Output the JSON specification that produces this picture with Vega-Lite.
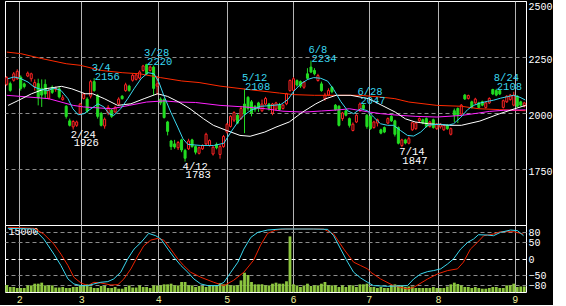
{
"$schema":"https://vega.github.io/schema/vega-lite/v6.json",
"background":"#000000",
"padding":{"left":4,"top":0,"right":0,"bottom":0},
"spacing":0,
"bounds":"flush",
"config":{"view":{"stroke":"#ffffff","strokeWidth":1},"axis":{"labelFont":"Liberation Mono","labelFontSize":10,"labelColor":"#ffffff","ticks":false,"domain":false,"title":null,"gridWidth":1}},
"resolve":{"scale":{"x":"independent","color":"independent"},"axis":{"x":"independent"}},
"datasets":{
"candles":[
{"i":0,"o":2128,"h":2165,"l":2122,"c":2158,"v":1570},
{"i":1,"o":2131,"h":2140,"l":2095,"c":2101,"v":1120},
{"i":2,"o":2146,"h":2183,"l":2140,"c":2175,"v":1120},
{"i":3,"o":2153,"h":2195,"l":2148,"c":2186,"v":900},
{"i":4,"o":2160,"h":2168,"l":2100,"c":2110,"v":900},
{"i":5,"o":2130,"h":2136,"l":2110,"c":2118,"v":900},
{"i":6,"o":2165,"h":2185,"l":2160,"c":2178,"v":1480},
{"i":7,"o":2153,"h":2180,"l":2140,"c":2175,"v":1480},
{"i":8,"o":2118,"h":2150,"l":2100,"c":2136,"v":1860},
{"i":9,"o":2131,"h":2153,"l":2034,"c":2068,"v":1860},
{"i":10,"o":2110,"h":2150,"l":2027,"c":2080,"v":2090},
{"i":11,"o":2128,"h":2150,"l":2064,"c":2085,"v":1480},
{"i":12,"o":2066,"h":2110,"l":2060,"c":2100,"v":1480},
{"i":13,"o":2115,"h":2123,"l":2085,"c":2092,"v":1480},
{"i":14,"o":2105,"h":2118,"l":2095,"c":2112,"v":1000},
{"i":15,"o":2108,"h":2120,"l":2065,"c":2072,"v":1000},
{"i":16,"o":2060,"h":2080,"l":2055,"c":2068,"v":1120},
{"i":17,"o":2030,"h":2035,"l":1975,"c":1985,"v":900},
{"i":18,"o":1965,"h":1975,"l":1940,"c":1945,"v":900},
{"i":19,"o":1938,"h":1968,"l":1926,"c":1962,"v":1120},
{"i":20,"o":1945,"h":1966,"l":1938,"c":1960,"v":1120},
{"i":21,"o":1998,"h":2045,"l":1990,"c":2040,"v":1480},
{"i":22,"o":2065,"h":2090,"l":2060,"c":2085,"v":1480},
{"i":23,"o":2062,"h":2070,"l":2000,"c":2008,"v":1710},
{"i":24,"o":2075,"h":2148,"l":2065,"c":2140,"v":1200},
{"i":25,"o":2140,"h":2156,"l":2095,"c":2100,"v":900},
{"i":26,"o":2078,"h":2085,"l":1975,"c":1985,"v":900},
{"i":27,"o":1998,"h":2005,"l":1940,"c":1945,"v":1340},
{"i":28,"o":1942,"h":1980,"l":1930,"c":1972,"v":1340},
{"i":29,"o":2000,"h":2035,"l":1990,"c":2025,"v":900},
{"i":30,"o":2012,"h":2020,"l":1978,"c":1985,"v":900},
{"i":31,"o":2005,"h":2032,"l":2000,"c":2025,"v":1120},
{"i":32,"o":2040,"h":2070,"l":2035,"c":2062,"v":740},
{"i":33,"o":2075,"h":2080,"l":2060,"c":2064,"v":740},
{"i":34,"o":2100,"h":2135,"l":2095,"c":2126,"v":1120},
{"i":35,"o":2120,"h":2126,"l":2095,"c":2101,"v":1480},
{"i":36,"o":2146,"h":2175,"l":2140,"c":2168,"v":1000},
{"i":37,"o":2150,"h":2178,"l":2145,"c":2170,"v":1000},
{"i":38,"o":2156,"h":2190,"l":2150,"c":2183,"v":1480},
{"i":39,"o":2190,"h":2215,"l":2185,"c":2210,"v":1120},
{"i":40,"o":2216,"h":2220,"l":2170,"c":2175,"v":1120},
{"i":41,"o":2190,"h":2212,"l":2185,"c":2205,"v":900},
{"i":42,"o":2205,"h":2212,"l":2080,"c":2110,"v":1480},
{"i":43,"o":2120,"h":2165,"l":2080,"c":2130,"v":1480},
{"i":44,"o":2062,"h":2070,"l":2035,"c":2045,"v":1480},
{"i":45,"o":2060,"h":2066,"l":1975,"c":1980,"v":1710},
{"i":46,"o":1960,"h":1965,"l":1900,"c":1918,"v":1710},
{"i":47,"o":1875,"h":1880,"l":1835,"c":1850,"v":1860},
{"i":48,"o":1862,"h":1880,"l":1840,"c":1848,"v":1480},
{"i":49,"o":1845,"h":1875,"l":1835,"c":1868,"v":1480},
{"i":50,"o":1880,"h":1885,"l":1825,"c":1835,"v":2240},
{"i":51,"o":1833,"h":1840,"l":1783,"c":1798,"v":2240},
{"i":52,"o":1840,"h":1885,"l":1835,"c":1875,"v":1480},
{"i":53,"o":1880,"h":1885,"l":1845,"c":1850,"v":1480},
{"i":54,"o":1850,"h":1855,"l":1815,"c":1825,"v":1120},
{"i":55,"o":1820,"h":1850,"l":1815,"c":1845,"v":1340},
{"i":56,"o":1840,"h":1860,"l":1835,"c":1855,"v":1340},
{"i":57,"o":1862,"h":1912,"l":1855,"c":1905,"v":1120},
{"i":58,"o":1855,"h":1882,"l":1850,"c":1877,"v":1340},
{"i":59,"o":1817,"h":1852,"l":1810,"c":1847,"v":1480},
{"i":60,"o":1860,"h":1868,"l":1838,"c":1845,"v":1480},
{"i":61,"o":1815,"h":1858,"l":1796,"c":1850,"v":1970},
{"i":62,"o":1850,"h":1902,"l":1845,"c":1895,"v":1710},
{"i":63,"o":1915,"h":1955,"l":1908,"c":1950,"v":1710},
{"i":64,"o":1940,"h":1990,"l":1935,"c":1985,"v":1480},
{"i":65,"o":1968,"h":2008,"l":1960,"c":2002,"v":1480},
{"i":66,"o":1990,"h":1995,"l":1950,"c":1955,"v":1480},
{"i":67,"o":1975,"h":2030,"l":1970,"c":2020,"v":2600},
{"i":68,"o":2040,"h":2108,"l":1910,"c":1995,"v":4320},
{"i":69,"o":2070,"h":2075,"l":2010,"c":2020,"v":3800},
{"i":70,"o":2050,"h":2058,"l":1985,"c":2000,"v":2240},
{"i":71,"o":2030,"h":2035,"l":2005,"c":2015,"v":1710},
{"i":72,"o":2045,"h":2050,"l":2005,"c":2020,"v":1710},
{"i":73,"o":2010,"h":2060,"l":2005,"c":2040,"v":1710},
{"i":74,"o":2040,"h":2072,"l":2035,"c":2065,"v":1480},
{"i":75,"o":2040,"h":2045,"l":2010,"c":2020,"v":1480},
{"i":76,"o":2000,"h":2045,"l":1990,"c":2040,"v":1860},
{"i":77,"o":2018,"h":2050,"l":2010,"c":2045,"v":2090},
{"i":78,"o":2035,"h":2045,"l":2010,"c":2015,"v":1860},
{"i":79,"o":2020,"h":2040,"l":2015,"c":2035,"v":1860},
{"i":80,"o":2041,"h":2090,"l":2035,"c":2086,"v":2400},
{"i":81,"o":2100,"h":2150,"l":2095,"c":2145,"v":12450},
{"i":82,"o":2101,"h":2160,"l":2095,"c":2153,"v":1710},
{"i":83,"o":2145,"h":2150,"l":2118,"c":2125,"v":1480},
{"i":84,"o":2140,"h":2145,"l":2112,"c":2120,"v":1120},
{"i":85,"o":2115,"h":2142,"l":2108,"c":2138,"v":1480},
{"i":86,"o":2175,"h":2200,"l":2150,"c":2155,"v":1860},
{"i":87,"o":2205,"h":2234,"l":2178,"c":2183,"v":1340},
{"i":88,"o":2190,"h":2200,"l":2168,"c":2175,"v":1480},
{"i":89,"o":2145,"h":2175,"l":2140,"c":2167,"v":1480},
{"i":90,"o":2130,"h":2140,"l":2095,"c":2100,"v":1860},
{"i":91,"o":2065,"h":2090,"l":2055,"c":2080,"v":2240},
{"i":92,"o":2080,"h":2110,"l":2075,"c":2100,"v":1480},
{"i":93,"o":2115,"h":2120,"l":2088,"c":2095,"v":1480},
{"i":94,"o":2035,"h":2040,"l":2010,"c":2015,"v":1480},
{"i":95,"o":2030,"h":2035,"l":1940,"c":1945,"v":1120},
{"i":96,"o":1975,"h":2005,"l":1965,"c":2000,"v":1480},
{"i":97,"o":2010,"h":2015,"l":1985,"c":1990,"v":1120},
{"i":98,"o":1975,"h":1980,"l":1935,"c":1945,"v":1480},
{"i":99,"o":1922,"h":1958,"l":1918,"c":1950,"v":1480},
{"i":100,"o":1960,"h":1995,"l":1955,"c":1990,"v":1120},
{"i":101,"o":2010,"h":2047,"l":2005,"c":2040,"v":1710},
{"i":102,"o":2035,"h":2040,"l":2015,"c":2020,"v":1710},
{"i":103,"o":1990,"h":1995,"l":1930,"c":1940,"v":1860},
{"i":104,"o":1985,"h":1990,"l":1925,"c":1930,"v":1120},
{"i":105,"o":1935,"h":1965,"l":1930,"c":1960,"v":1120},
{"i":106,"o":1955,"h":1975,"l":1940,"c":1970,"v":900},
{"i":107,"o":1925,"h":1930,"l":1905,"c":1910,"v":1120},
{"i":108,"o":1935,"h":1940,"l":1910,"c":1915,"v":900},
{"i":109,"o":1955,"h":1980,"l":1950,"c":1975,"v":900},
{"i":110,"o":1985,"h":1990,"l":1960,"c":1965,"v":1480},
{"i":111,"o":1965,"h":1970,"l":1895,"c":1905,"v":1710},
{"i":112,"o":1935,"h":1940,"l":1860,"c":1865,"v":1480},
{"i":113,"o":1855,"h":1885,"l":1847,"c":1880,"v":1480},
{"i":114,"o":1880,"h":1885,"l":1860,"c":1866,"v":1120},
{"i":115,"o":1865,"h":1895,"l":1860,"c":1885,"v":1230},
{"i":116,"o":1925,"h":1960,"l":1920,"c":1957,"v":1230},
{"i":117,"o":1930,"h":1960,"l":1925,"c":1955,"v":900},
{"i":118,"o":1965,"h":1980,"l":1960,"c":1975,"v":900},
{"i":119,"o":1970,"h":1975,"l":1950,"c":1955,"v":900},
{"i":120,"o":1975,"h":1980,"l":1935,"c":1940,"v":900},
{"i":121,"o":1940,"h":1965,"l":1935,"c":1960,"v":900},
{"i":122,"o":1970,"h":1975,"l":1930,"c":1935,"v":1120},
{"i":123,"o":1930,"h":1955,"l":1925,"c":1950,"v":900},
{"i":124,"o":1938,"h":1955,"l":1930,"c":1950,"v":900},
{"i":125,"o":1925,"h":1950,"l":1920,"c":1945,"v":900},
{"i":126,"o":1945,"h":1950,"l":1925,"c":1930,"v":1230},
{"i":127,"o":1905,"h":1935,"l":1900,"c":1930,"v":1710},
{"i":128,"o":2010,"h":2020,"l":1960,"c":1990,"v":2090},
{"i":129,"o":2020,"h":2025,"l":1955,"c":1990,"v":1790},
{"i":130,"o":1995,"h":2040,"l":1990,"c":2035,"v":1480},
{"i":131,"o":2080,"h":2085,"l":2058,"c":2063,"v":1120},
{"i":132,"o":2065,"h":2082,"l":2060,"c":2078,"v":1120},
{"i":133,"o":2050,"h":2055,"l":2020,"c":2025,"v":900},
{"i":134,"o":2045,"h":2068,"l":2040,"c":2062,"v":1120},
{"i":135,"o":2045,"h":2050,"l":2020,"c":2025,"v":900},
{"i":136,"o":2050,"h":2055,"l":2030,"c":2035,"v":740},
{"i":137,"o":2025,"h":2050,"l":2020,"c":2045,"v":740},
{"i":138,"o":2045,"h":2070,"l":2040,"c":2065,"v":900},
{"i":139,"o":2105,"h":2108,"l":2080,"c":2085,"v":1120},
{"i":140,"o":2100,"h":2108,"l":2075,"c":2080,"v":1120},
{"i":141,"o":2100,"h":2105,"l":2080,"c":2085,"v":900},
{"i":142,"o":2025,"h":2060,"l":2020,"c":2055,"v":900},
{"i":143,"o":2050,"h":2080,"l":2045,"c":2075,"v":1480},
{"i":144,"o":2060,"h":2085,"l":2055,"c":2080,"v":1480},
{"i":145,"o":2035,"h":2095,"l":2030,"c":2080,"v":1860},
{"i":146,"o":2075,"h":2080,"l":2025,"c":2030,"v":1120},
{"i":147,"o":2050,"h":2055,"l":2030,"c":2035,"v":1230},
{"i":148,"o":2030,"h":2050,"l":2025,"c":2045,"v":1230}
],
"ma":[
{"i":0,"p":2272,"s":"r"},{"i":4,"p":2265,"s":"r"},{"i":10,"p":2243,"s":"r"},{"i":17,"p":2220,"s":"r"},{"i":21,"p":2213,"s":"r"},{"i":27,"p":2190,"s":"r"},{"i":33,"p":2180,"s":"r"},{"i":38,"p":2175,"s":"r"},{"i":44,"p":2158,"s":"r"},{"i":50,"p":2143,"s":"r"},{"i":55,"p":2136,"s":"r"},{"i":61,"p":2120,"s":"r"},{"i":69,"p":2105,"s":"r"},{"i":78,"p":2089,"s":"r"},{"i":82,"p":2082,"s":"r"},{"i":88,"p":2079,"s":"r"},{"i":101,"p":2079,"s":"r"},{"i":107,"p":2071,"s":"r"},{"i":111,"p":2064,"s":"r"},{"i":115,"p":2049,"s":"r"},{"i":123,"p":2034,"s":"r"},{"i":130,"p":2030,"s":"r"},{"i":135,"p":2019,"s":"r"},{"i":141,"p":2015,"s":"r"},{"i":148.4,"p":2010,"s":"r"},
{"i":0,"p":2079,"s":"m"},{"i":12,"p":2064,"s":"m"},{"i":19,"p":2034,"s":"m"},{"i":22,"p":2027,"s":"m"},{"i":30,"p":2019,"s":"m"},{"i":35,"p":2034,"s":"m"},{"i":40,"p":2049,"s":"m"},{"i":45,"p":2054,"s":"m"},{"i":49,"p":2049,"s":"m"},{"i":54,"p":2047,"s":"m"},{"i":61,"p":2034,"s":"m"},{"i":68,"p":2027,"s":"m"},{"i":74,"p":2019,"s":"m"},{"i":79,"p":2008,"s":"m"},{"i":85,"p":2004,"s":"m"},{"i":90,"p":2009,"s":"m"},{"i":95,"p":2014,"s":"m"},{"i":98,"p":2019,"s":"m"},{"i":103,"p":2006,"s":"m"},{"i":107,"p":1997,"s":"m"},{"i":112,"p":1990,"s":"m"},{"i":117,"p":1985,"s":"m"},{"i":123,"p":1982,"s":"m"},{"i":130,"p":1989,"s":"m"},{"i":135,"p":2000,"s":"m"},{"i":138,"p":2007,"s":"m"},{"i":142,"p":2012,"s":"m"},{"i":148.4,"p":2014,"s":"m"},
{"i":0.4,"p":2034,"s":"w"},{"i":3.3,"p":2056,"s":"w"},{"i":7.1,"p":2086,"s":"w"},{"i":10.9,"p":2108,"s":"w"},{"i":15.7,"p":2119,"s":"w"},{"i":18.6,"p":2108,"s":"w"},{"i":22.4,"p":2086,"s":"w"},{"i":24.6,"p":2086,"s":"w"},{"i":27.9,"p":2064,"s":"w"},{"i":31.7,"p":2034,"s":"w"},{"i":35.5,"p":2041,"s":"w"},{"i":39.3,"p":2064,"s":"w"},{"i":43.1,"p":2086,"s":"w"},{"i":46,"p":2074,"s":"w"},{"i":49.2,"p":2049,"s":"w"},{"i":52.4,"p":2019,"s":"w"},{"i":56.3,"p":1974,"s":"w"},{"i":59.1,"p":1945,"s":"w"},{"i":62.9,"p":1922,"s":"w"},{"i":66.7,"p":1900,"s":"w"},{"i":69.6,"p":1896,"s":"w"},{"i":73.8,"p":1915,"s":"w"},{"i":77,"p":1937,"s":"w"},{"i":80.8,"p":1960,"s":"w"},{"i":84.6,"p":2004,"s":"w"},{"i":88.4,"p":2041,"s":"w"},{"i":91.3,"p":2064,"s":"w"},{"i":94.2,"p":2079,"s":"w"},{"i":98.4,"p":2079,"s":"w"},{"i":103.5,"p":2064,"s":"w"},{"i":107.3,"p":2034,"s":"w"},{"i":111.1,"p":2004,"s":"w"},{"i":114,"p":1974,"s":"w"},{"i":116.8,"p":1960,"s":"w"},{"i":120.6,"p":1952,"s":"w"},{"i":126.7,"p":1945,"s":"w"},{"i":130,"p":1945,"s":"w"},{"i":135.3,"p":1964,"s":"w"},{"i":141,"p":1997,"s":"w"},{"i":145.3,"p":2019,"s":"w"},{"i":148.4,"p":2034,"s":"w"},
{"i":0.3,"p":2153,"s":"c"},{"i":2.1,"p":2161,"s":"c"},{"i":4.1,"p":2153,"s":"c"},{"i":6.1,"p":2138,"s":"c"},{"i":7.8,"p":2116,"s":"c"},{"i":9.8,"p":2105,"s":"c"},{"i":11.8,"p":2101,"s":"c"},{"i":13.5,"p":2111,"s":"c"},{"i":15.5,"p":2101,"s":"c"},{"i":17.5,"p":2064,"s":"c"},{"i":18.9,"p":2019,"s":"c"},{"i":20.4,"p":1992,"s":"c"},{"i":22.1,"p":1997,"s":"c"},{"i":24.1,"p":2019,"s":"c"},{"i":26.1,"p":2041,"s":"c"},{"i":27.8,"p":2027,"s":"c"},{"i":29.2,"p":1997,"s":"c"},{"i":30.6,"p":1989,"s":"c"},{"i":32.6,"p":2019,"s":"c"},{"i":34.6,"p":2064,"s":"c"},{"i":36.4,"p":2108,"s":"c"},{"i":38.4,"p":2153,"s":"c"},{"i":40.4,"p":2180,"s":"c"},{"i":42.1,"p":2175,"s":"c"},{"i":43.5,"p":2138,"s":"c"},{"i":44.9,"p":2079,"s":"c"},{"i":46.9,"p":2004,"s":"c"},{"i":48.9,"p":1937,"s":"c"},{"i":50.4,"p":1885,"s":"c"},{"i":51.8,"p":1860,"s":"c"},{"i":55.5,"p":1855,"s":"c"},{"i":59.2,"p":1855,"s":"c"},{"i":62.1,"p":1865,"s":"c"},{"i":64.1,"p":1915,"s":"c"},{"i":66.1,"p":1960,"s":"c"},{"i":67.8,"p":1989,"s":"c"},{"i":69.8,"p":2012,"s":"c"},{"i":72.6,"p":2030,"s":"c"},{"i":75.5,"p":2033,"s":"c"},{"i":78.4,"p":2038,"s":"c"},{"i":80.4,"p":2060,"s":"c"},{"i":82.1,"p":2097,"s":"c"},{"i":84.1,"p":2130,"s":"c"},{"i":86.1,"p":2150,"s":"c"},{"i":87.8,"p":2158,"s":"c"},{"i":89.8,"p":2155,"s":"c"},{"i":91.8,"p":2142,"s":"c"},{"i":93.5,"p":2105,"s":"c"},{"i":95.5,"p":2052,"s":"c"},{"i":97.5,"p":2010,"s":"c"},{"i":99.2,"p":1997,"s":"c"},{"i":101.2,"p":2019,"s":"c"},{"i":103.2,"p":2010,"s":"c"},{"i":104.9,"p":1982,"s":"c"},{"i":106.9,"p":1952,"s":"c"},{"i":108.9,"p":1945,"s":"c"},{"i":110.6,"p":1945,"s":"c"},{"i":112.6,"p":1922,"s":"c"},{"i":114.6,"p":1900,"s":"c"},{"i":116.4,"p":1897,"s":"c"},{"i":118.4,"p":1915,"s":"c"},{"i":120.4,"p":1945,"s":"c"},{"i":122.1,"p":1948,"s":"c"},{"i":124.1,"p":1950,"s":"c"},{"i":126.1,"p":1945,"s":"c"},{"i":127.8,"p":1952,"s":"c"},{"i":129.8,"p":1980,"s":"c"},{"i":131.8,"p":2015,"s":"c"},{"i":133.5,"p":2034,"s":"c"},{"i":135.5,"p":2045,"s":"c"},{"i":137.5,"p":2052,"s":"c"},{"i":139.2,"p":2057,"s":"c"},{"i":141.2,"p":2066,"s":"c"},{"i":143.2,"p":2073,"s":"c"},{"i":144.9,"p":2079,"s":"c"},{"i":146.8,"p":2070,"s":"c"},{"i":148.3,"p":2058,"s":"c"}
],
"osc":[
{"i":0.4,"v":93,"s":"r"},{"i":7.8,"v":90,"s":"r"},{"i":10.6,"v":73,"s":"r"},{"i":13.5,"v":43,"s":"r"},{"i":15.5,"v":13,"s":"r"},{"i":17.5,"v":-21,"s":"r"},{"i":19.2,"v":-56,"s":"r"},{"i":21.2,"v":-73,"s":"r"},{"i":23.2,"v":-81,"s":"r"},{"i":24.9,"v":-71,"s":"r"},{"i":26.9,"v":-73,"s":"r"},{"i":29.8,"v":-79,"s":"r"},{"i":31.8,"v":-78,"s":"r"},{"i":33.5,"v":-61,"s":"r"},{"i":35.5,"v":-31,"s":"r"},{"i":37.5,"v":8,"s":"r"},{"i":39.2,"v":38,"s":"r"},{"i":41.2,"v":55,"s":"r"},{"i":43.2,"v":60,"s":"r"},{"i":44.9,"v":55,"s":"r"},{"i":46.9,"v":28,"s":"r"},{"i":48.9,"v":-1,"s":"r"},{"i":50.6,"v":-21,"s":"r"},{"i":52.6,"v":-41,"s":"r"},{"i":55.5,"v":-56,"s":"r"},{"i":59.2,"v":-71,"s":"r"},{"i":62.1,"v":-81,"s":"r"},{"i":64.9,"v":-65,"s":"r"},{"i":67.8,"v":-41,"s":"r"},{"i":70.6,"v":-5,"s":"r"},{"i":72.6,"v":40,"s":"r"},{"i":74.6,"v":75,"s":"r"},{"i":76.9,"v":85,"s":"r"},{"i":79.8,"v":88,"s":"r"},{"i":90.6,"v":88,"s":"r"},{"i":93.5,"v":73,"s":"r"},{"i":96.4,"v":28,"s":"r"},{"i":99.2,"v":-11,"s":"r"},{"i":101.2,"v":-21,"s":"r"},{"i":103.2,"v":-31,"s":"r"},{"i":104.1,"v":-41,"s":"r"},{"i":106.9,"v":-61,"s":"r"},{"i":110.6,"v":-81,"s":"r"},{"i":114.6,"v":-91,"s":"r"},{"i":116.4,"v":-86,"s":"r"},{"i":120.4,"v":-61,"s":"r"},{"i":123.2,"v":-46,"s":"r"},{"i":126.1,"v":-36,"s":"r"},{"i":128.9,"v":-31,"s":"r"},{"i":130.6,"v":-11,"s":"r"},{"i":132.6,"v":28,"s":"r"},{"i":134.6,"v":48,"s":"r"},{"i":136.4,"v":68,"s":"r"},{"i":139.2,"v":73,"s":"r"},{"i":141.2,"v":80,"s":"r"},{"i":144.9,"v":80,"s":"r"},{"i":147.8,"v":73,"s":"r"},
{"i":0.3,"v":90,"s":"c"},{"i":7.8,"v":88,"s":"c"},{"i":10.6,"v":58,"s":"c"},{"i":13.5,"v":13,"s":"c"},{"i":15.5,"v":-21,"s":"c"},{"i":17.5,"v":-61,"s":"c"},{"i":19.2,"v":-76,"s":"c"},{"i":21.2,"v":-81,"s":"c"},{"i":23.2,"v":-81,"s":"c"},{"i":24.9,"v":-76,"s":"c"},{"i":26.9,"v":-71,"s":"c"},{"i":28.9,"v":-69,"s":"c"},{"i":30.6,"v":-61,"s":"c"},{"i":32.6,"v":-41,"s":"c"},{"i":34.6,"v":-1,"s":"c"},{"i":36.4,"v":28,"s":"c"},{"i":38.4,"v":48,"s":"c"},{"i":40.6,"v":75,"s":"c"},{"i":42.6,"v":68,"s":"c"},{"i":44.1,"v":58,"s":"c"},{"i":46.1,"v":28,"s":"c"},{"i":47.8,"v":4,"s":"c"},{"i":49.8,"v":-21,"s":"c"},{"i":51.8,"v":-41,"s":"c"},{"i":53.5,"v":-61,"s":"c"},{"i":55.5,"v":-76,"s":"c"},{"i":57.5,"v":-81,"s":"c"},{"i":60.4,"v":-81,"s":"c"},{"i":62.1,"v":-71,"s":"c"},{"i":64.1,"v":-41,"s":"c"},{"i":66.1,"v":-11,"s":"c"},{"i":67.8,"v":28,"s":"c"},{"i":69.8,"v":63,"s":"c"},{"i":71.8,"v":78,"s":"c"},{"i":74.6,"v":85,"s":"c"},{"i":78.4,"v":88,"s":"c"},{"i":87.8,"v":88,"s":"c"},{"i":91.8,"v":87,"s":"c"},{"i":93.5,"v":68,"s":"c"},{"i":95.5,"v":28,"s":"c"},{"i":97.5,"v":-11,"s":"c"},{"i":99.2,"v":-41,"s":"c"},{"i":101.2,"v":-58,"s":"c"},{"i":103.2,"v":-71,"s":"c"},{"i":104.9,"v":-81,"s":"c"},{"i":108.9,"v":-83,"s":"c"},{"i":114.6,"v":-81,"s":"c"},{"i":116.4,"v":-61,"s":"c"},{"i":118.4,"v":-46,"s":"c"},{"i":120.4,"v":-39,"s":"c"},{"i":122.1,"v":-36,"s":"c"},{"i":124.1,"v":-31,"s":"c"},{"i":126.1,"v":-16,"s":"c"},{"i":127.8,"v":-1,"s":"c"},{"i":129.8,"v":28,"s":"c"},{"i":131.8,"v":48,"s":"c"},{"i":133.5,"v":58,"s":"c"},{"i":134.9,"v":71,"s":"c"},{"i":137.5,"v":70,"s":"c"},{"i":139.2,"v":68,"s":"c"},{"i":141.2,"v":78,"s":"c"},{"i":144.1,"v":85,"s":"c"},{"i":146.1,"v":83,"s":"c"},{"i":147.8,"v":68,"s":"c"}
],
"notes":[
{"i":19,"p":1926,"d":"2/24","t":"1926","k":"low"},
{"i":25,"p":2156,"d":"3/4","t":"2156","k":"high"},
{"i":40,"p":2220,"d":"3/28","t":"2220","k":"high"},
{"i":51,"p":1783,"d":"4/12","t":"1783","k":"low"},
{"i":68,"p":2108,"d":"5/12","t":"2108","k":"high"},
{"i":87,"p":2234,"d":"6/8","t":"2234","k":"high"},
{"i":101,"p":2047,"d":"6/28","t":"2047","k":"high"},
{"i":113,"p":1847,"d":"7/14","t":"1847","k":"low"},
{"i":140,"p":2108,"d":"8/24","t":"2108","k":"high"}
]
},
"vconcat":[
{
"width":521,"height":224,
"layer":[
{"data":{"name":"candles"},"mark":{"type":"rule","strokeWidth":1,"clip":true},
"encoding":{
"x":{"field":"i","type":"quantitative","scale":{"domain":[-0.5,148.5],"nice":false,"zero":false,"padding":0},"axis":{"values":[3.6,21.3,43.3,62.9,81.9,103.5,123.3,145.3],"labels":false,"grid":true,"gridColor":"#b4b4b4"}},
"y":{"field":"l","type":"quantitative","scale":{"domain":[1500,2500],"nice":false,"zero":false,"padding":0},"axis":{"orient":"right","values":[2500,2250,2000,1750],"format":"d","grid":true,"gridDash":[4,3],"gridColor":{"condition":{"test":"datum.value === 2500","value":"#ffffff"},"value":"#8c8c8c"},"labelAlign":"left","labelBaseline":{"condition":{"test":"datum.value === 2500","value":"top"},"value":"middle"},"labelPadding":2,"labelOffset":{"condition":{"test":"datum.value === 2500","value":0},"value":2}}},
"y2":{"field":"h"},
"color":{"condition":{"test":"datum.c >= datum.o","value":"#ff2424"},"value":"#22dd22"}}},
{"data":{"name":"candles"},"mark":{"type":"bar","width":2,"strokeWidth":1,"clip":true},
"encoding":{
"x":{"field":"i","type":"quantitative"},
"y":{"field":"o","type":"quantitative"},
"y2":{"field":"c"},
"fill":{"condition":{"test":"datum.c >= datum.o","value":"#000000"},"value":"#22dd22"},
"stroke":{"condition":{"test":"datum.c >= datum.o","value":"#ff2424"},"value":"#22dd22"}}},
{"data":{"name":"ma"},"mark":{"type":"line","strokeWidth":1,"clip":true},
"encoding":{
"x":{"field":"i","type":"quantitative"},
"y":{"field":"p","type":"quantitative"},
"color":{"field":"s","type":"nominal","scale":{"domain":["r","m","w","c"],"range":["#ff2a00","#ff22ff","#ffffff","#3ad8f0"]},"legend":null}}},
{"data":{"name":"notes"},"transform":[{"filter":"datum.k === 'high'"}],"mark":{"type":"text","font":"Liberation Mono","fontSize":10.5,"align":"left","baseline":"alphabetic","dx":-2.5,"dy":-7.5,"color":"#3ad8f0"},
"encoding":{"x":{"field":"i","type":"quantitative"},"y":{"field":"p","type":"quantitative"},"text":{"field":"d"}}},
{"data":{"name":"notes"},"transform":[{"filter":"datum.k === 'high'"}],"mark":{"type":"text","font":"Liberation Mono","fontSize":10.5,"align":"left","baseline":"alphabetic","dx":0.5,"dy":1.5,"color":"#3ad8f0"},
"encoding":{"x":{"field":"i","type":"quantitative"},"y":{"field":"p","type":"quantitative"},"text":{"field":"t"}}},
{"data":{"name":"notes"},"transform":[{"filter":"datum.k === 'low'"}],"mark":{"type":"text","font":"Liberation Mono","fontSize":10.5,"align":"left","baseline":"alphabetic","dx":-2.5,"dy":8,"color":"#ffffff"},
"encoding":{"x":{"field":"i","type":"quantitative"},"y":{"field":"p","type":"quantitative"},"text":{"field":"d"}}},
{"data":{"name":"notes"},"transform":[{"filter":"datum.k === 'low'"}],"mark":{"type":"text","font":"Liberation Mono","fontSize":10.5,"align":"left","baseline":"alphabetic","dx":0.5,"dy":16.5,"color":"#ffffff"},
"encoding":{"x":{"field":"i","type":"quantitative"},"y":{"field":"p","type":"quantitative"},"text":{"field":"t"}}}
]
},
{
"width":521,"height":67,
"layer":[
{"data":{"name":"candles"},"mark":{"type":"bar","width":2.8,"color":"#8dc63f","clip":true},
"encoding":{
"x":{"field":"i","type":"quantitative","scale":{"domain":[-0.5,148.5],"nice":false,"zero":false,"padding":0},"axis":{"values":[3.6,21.3,43.3,62.9,81.9,103.5,123.3,145.3],"labelExpr":"datum.value < 10 ? '2' : datum.value < 30 ? '3' : datum.value < 50 ? '4' : datum.value < 70 ? '5' : datum.value < 90 ? '6' : datum.value < 110 ? '7' : datum.value < 130 ? '8' : '9'","grid":true,"gridColor":"#b4b4b4","labelColor":"#eeee99","labelPadding":2,"labelFlush":false}},
"y":{"field":"v","type":"quantitative","scale":{"domain":[0,15000],"nice":false,"padding":0},"axis":{"orient":"left","values":[15000],"format":"d","grid":false,"labelAlign":"left","labelBaseline":"top","labelPadding":-3,"labelOffset":1,"minExtent":0,"maxExtent":0}}}},
{"data":{"name":"osc"},"mark":{"type":"line","strokeWidth":1,"clip":true},
"encoding":{
"x":{"field":"i","type":"quantitative"},
"y":{"field":"v","type":"quantitative","scale":{"domain":[-100,100],"nice":false},"axis":{"orient":"right","values":[80,50,0,-50,-80],"format":"d","grid":true,"gridDash":[4,3],"gridColor":{"condition":{"test":"datum.value === 0","value":"#ffffff"},"value":"#8c8c8c"},"labelAlign":"left","labelBaseline":"middle","labelPadding":2,"labelOffset":0.5}},
"color":{"field":"s","type":"nominal","scale":{"domain":["r","c"],"range":["#ee2200","#3ad8f0"]},"legend":null}}}
],
"resolve":{"scale":{"y":"independent"}}
}
]
}
